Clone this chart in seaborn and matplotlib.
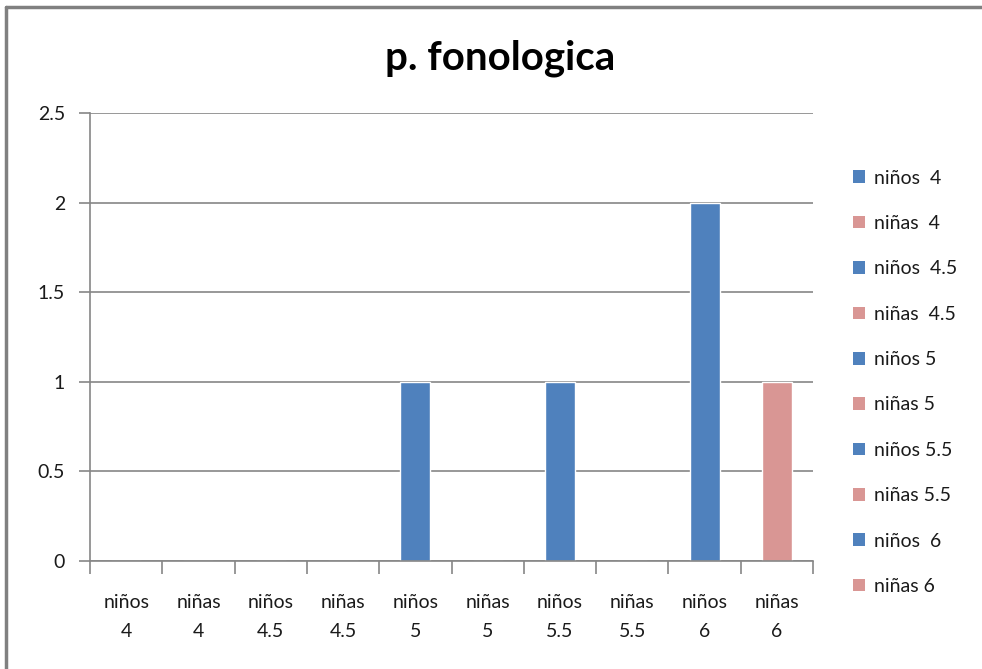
import matplotlib
matplotlib.use("Agg")
import matplotlib.pyplot as plt
import seaborn as sns
import pandas as pd
import numpy as np
from matplotlib.lines import Line2D
from matplotlib.patches import Patch

categories = ["niños\n4", "niñas\n4", "niños\n4.5", "niñas\n4.5", "niños\n5",
              "niñas\n5", "niños\n5.5", "niñas\n5.5", "niños\n6", "niñas\n6"]
legend_labels = ["niños  4", "niñas  4", "niños  4.5", "niñas  4.5", "niños 5",
                 "niñas 5", "niños 5.5", "niñas 5.5", "niños  6", "niñas 6"]
values = [0, 0, 0, 0, 1, 0, 1, 0, 2, 1]
yticks = [0, 0.5, 1, 1.5, 2, 2.5]
ytick_labels = ["0", "0.5", "1", "1.5", "2", "2.5"]

blue = "#4F81BD"
pink = "#D99694"
colors = [blue if c.startswith("niños") else pink for c in categories]

sns.set_theme(style="white")
plt.rcParams['font.family'] = ['Lato', 'DejaVu Sans']

df = pd.DataFrame({"cat": categories, "val": values, "series": legend_labels})

fig = plt.figure(figsize=(9.82, 6.69), dpi=100)
ax = fig.add_axes([90/982, 1-561/669, (813-90)/982, (561-113)/669])

sns.barplot(data=df, x="cat", y="val", hue="series", palette=colors,
            dodge=False, width=0.415, ax=ax, legend=False, saturation=1)

grid_c = "#868686"
txt_c = "#1a1a1a"
ax.set_ylim(0, 2.5)
ax.set_xlim(-0.5, len(categories) - 0.5)
ax.set_yticks(yticks)
ax.set_yticklabels(ytick_labels, fontsize=14, color=txt_c)
ax.yaxis.grid(True, color=grid_c, linewidth=1.2)
ax.set_axisbelow(True)
ax.tick_params(axis="y", length=8, width=1.2, color=grid_c, direction="out", pad=10, left=True)
ax.set_xticks(range(len(categories)))
ax.set_xticklabels(categories, fontsize=14, color=txt_c, linespacing=1.85)
ax.tick_params(axis="x", length=0, pad=24)
ax.set_xticks(np.arange(-0.5, len(categories)), minor=True)
ax.tick_params(axis="x", which="minor", length=9, width=1.2, color=grid_c, direction="out", bottom=True)
ax.set_xlabel("")
ax.set_ylabel("")
for s in ["top", "right"]:
    ax.spines[s].set_visible(False)
for s in ["left", "bottom"]:
    ax.spines[s].set_color(grid_c)
    ax.spines[s].set_linewidth(1.2)

fig.text(500/982, 1-58/669, "p. fonologica", ha="center", va="center",
         fontsize=29, fontweight="bold", color="black")

handles = [Patch(facecolor=c, edgecolor="none") for c in colors]
leg = fig.legend(handles, legend_labels, loc="upper left",
                 bbox_to_anchor=(835/982, 1-152/669), frameon=False,
                 fontsize=14, labelspacing=1.46, handlelength=0.62, handleheight=0.62,
                 handletextpad=0.5)
for t in leg.get_texts():
    t.set_color(txt_c)

# outer frame (top and left lines)
fig.add_artist(Line2D([6/982, 1], [1-7/669, 1-7/669], transform=fig.transFigure, color="#808080", linewidth=2.5))
fig.add_artist(Line2D([6/982, 6/982], [0, 1-7/669], transform=fig.transFigure, color="#808080", linewidth=2.5))

fig.savefig("out.png", dpi=100)
